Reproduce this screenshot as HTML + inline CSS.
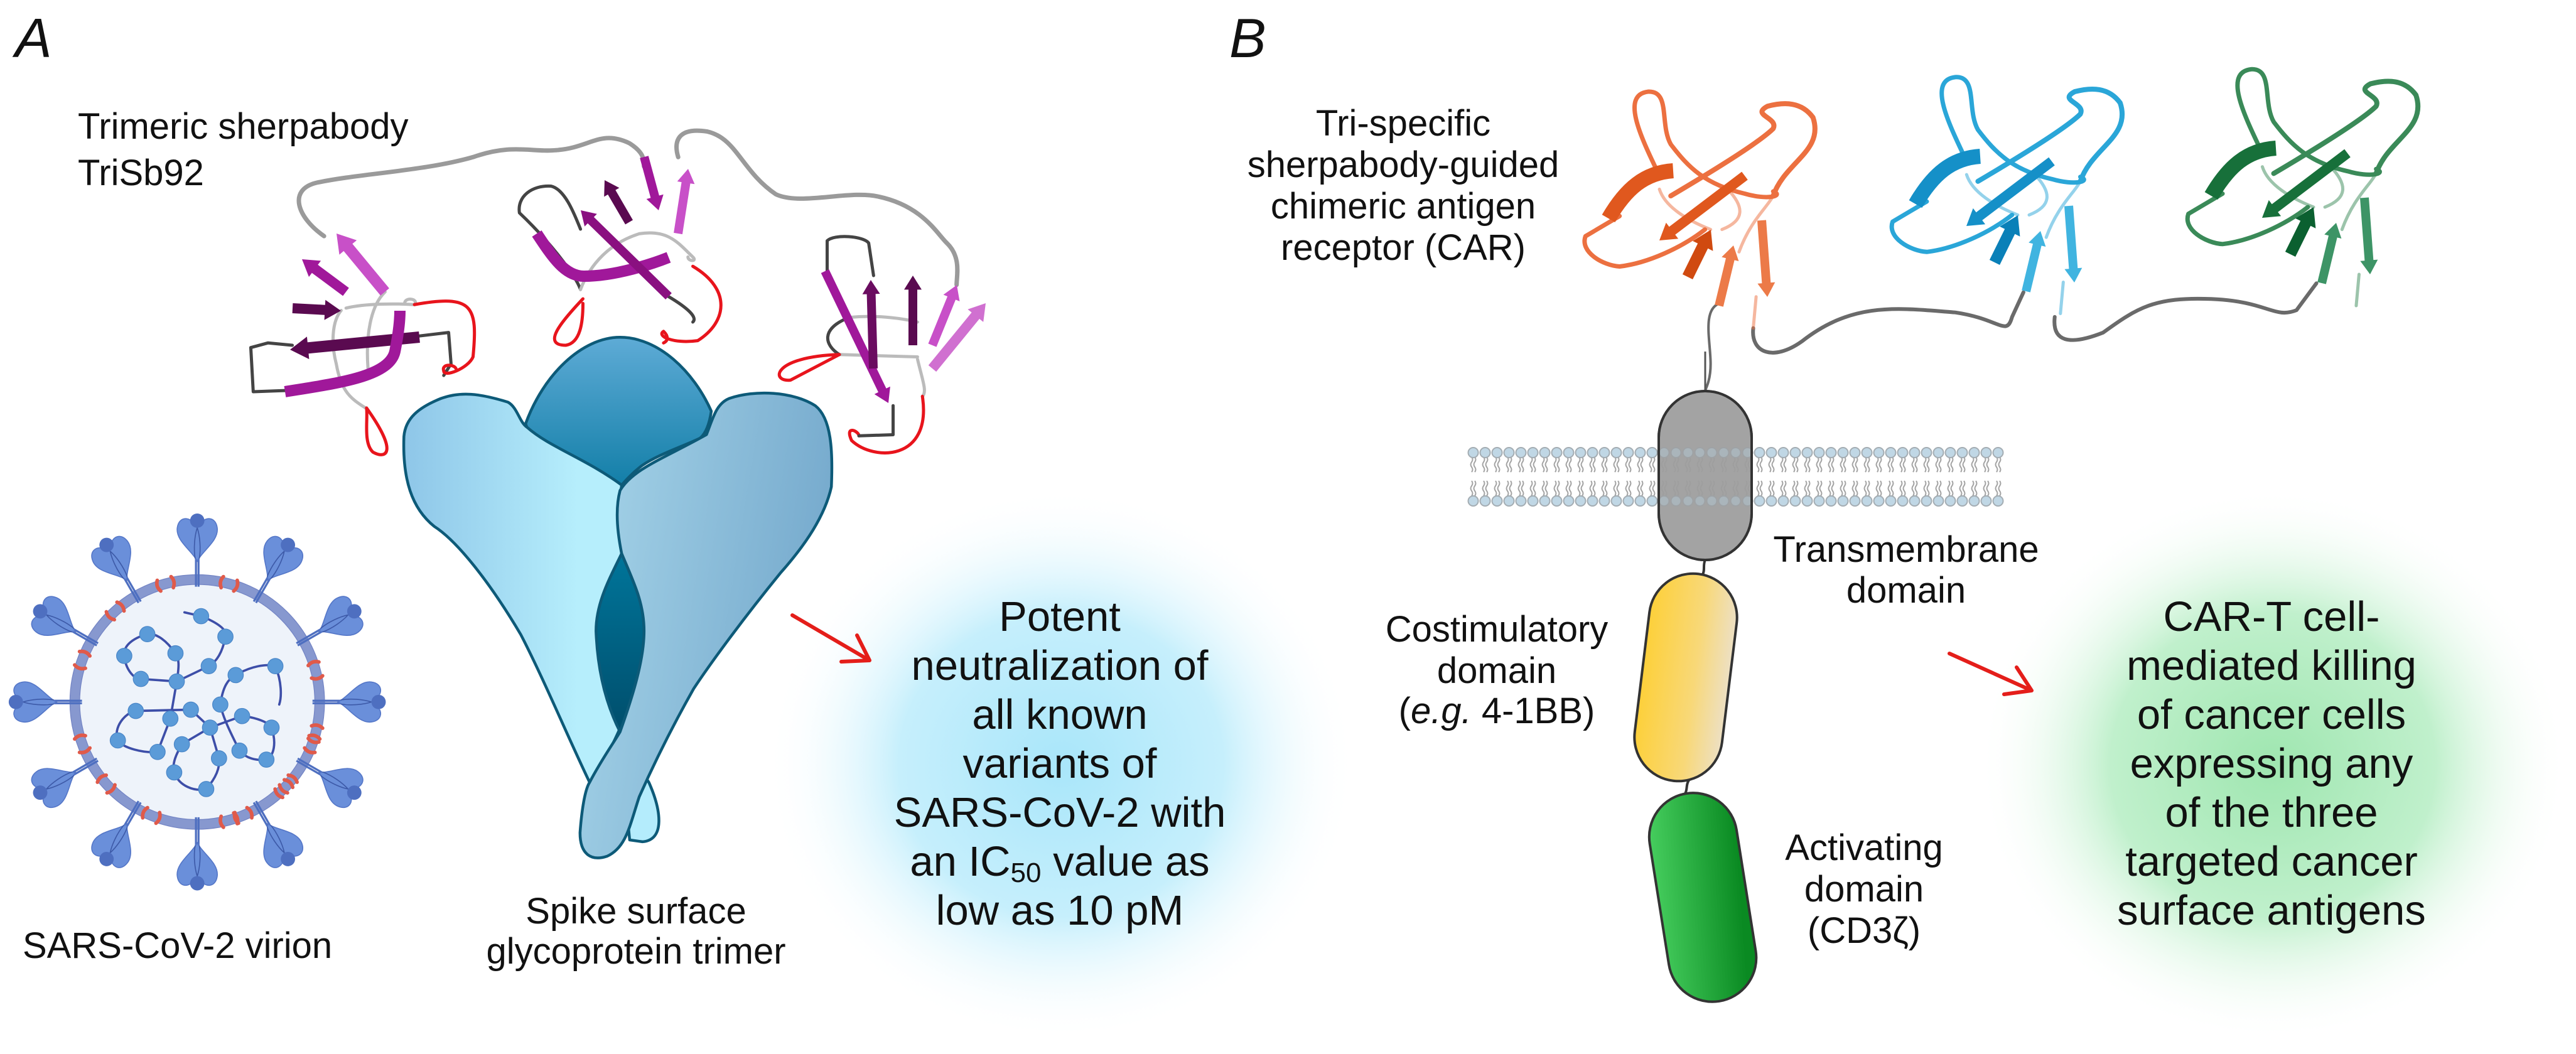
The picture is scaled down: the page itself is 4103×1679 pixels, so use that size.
<!DOCTYPE html>
<html><head><meta charset="utf-8">
<style>
html,body{margin:0;padding:0;background:#fff;}
body{width:4103px;height:1674px;overflow:hidden;}
svg text{font-family:"Liberation Sans",sans-serif;fill:#111;}
</style></head>
<body>
<svg id="s" width="4103" height="1674" viewBox="0 0 4103 1674" xmlns="http://www.w3.org/2000/svg">
<defs>
  <radialGradient id="gBlue" cx="0.5" cy="0.5" r="0.5">
    <stop offset="0" stop-color="#a9e6fa"/><stop offset="0.55" stop-color="#c6effc"/><stop offset="1" stop-color="#ffffff" stop-opacity="0"/>
  </radialGradient>
  <radialGradient id="gGreen" cx="0.5" cy="0.5" r="0.5">
    <stop offset="0" stop-color="#9fe6b0"/><stop offset="0.55" stop-color="#c0f0cc"/><stop offset="1" stop-color="#ffffff" stop-opacity="0"/>
  </radialGradient>
  <linearGradient id="gLeft" x1="0" y1="0" x2="1" y2="0"><stop offset="0" stop-color="#8ec6e8"/><stop offset="0.8" stop-color="#b6eefc"/></linearGradient>
  <linearGradient id="gDome" x1="0" y1="0" x2="0" y2="1"><stop offset="0" stop-color="#5eabd6"/><stop offset="1" stop-color="#137fa8"/></linearGradient>
  <linearGradient id="gRight" x1="0" y1="0" x2="1" y2="0.3"><stop offset="0" stop-color="#a8d6ea"/><stop offset="1" stop-color="#76aacd"/></linearGradient>
  <linearGradient id="gLens" x1="0" y1="0" x2="0" y2="1"><stop offset="0" stop-color="#00759a"/><stop offset="1" stop-color="#004e6c"/></linearGradient>
  <linearGradient id="gYel" x1="0" y1="0" x2="1" y2="0"><stop offset="0" stop-color="#fdd03a"/><stop offset="0.6" stop-color="#f8d878"/><stop offset="1" stop-color="#ede0c4"/></linearGradient>
  <linearGradient id="gGrn" x1="0" y1="0" x2="1" y2="0.2"><stop offset="0" stop-color="#48d060"/><stop offset="1" stop-color="#0a8a22"/></linearGradient>
  <pattern id="lip" x="2337" y="710" width="19" height="100" patternUnits="userSpaceOnUse">
    <path d="M7,18 q3,4 0,8 q-3,4 0,8 q3,4 0,8 M12,18 q3,4 0,8 q-3,4 0,8 q3,4 0,8 M7,56 q3,4 0,8 q-3,4 0,8 q3,4 0,8 M12,56 q3,4 0,8 q-3,4 0,8 q3,4 0,8" fill="none" stroke="#9a9a9a" stroke-width="2"/>
    <circle cx="9.5" cy="11" r="8" fill="#b9d2e2" stroke="#9aa4aa" stroke-width="2"/>
    <circle cx="9.5" cy="88" r="8" fill="#b9d2e2" stroke="#9aa4aa" stroke-width="2"/>
  </pattern>
  <g id="vspike">
    <path d="M-5,30 L-5,-95 M5,30 L5,-95" stroke="#4e6fc0" stroke-width="8"/>
    <path d="M0,-70 C-20,-110 -85,-150 -78,-200 C-72,-245 -30,-245 -12,-215 C-15,-255 15,-255 12,-215 C30,-245 72,-245 78,-200 C85,-150 20,-110 0,-70Z" fill="#6a8fda" stroke="#5577c8" stroke-width="4"/>
    <circle cx="0" cy="-228" r="28" fill="#4e6fc0"/>
    <path d="M-8,-80 C-15,-120 -10,-170 0,-200 M8,-80 C15,-120 10,-170 0,-200" stroke="#3d5aa8" stroke-width="4" fill="none"/>
  </g>
  <g id="oloops">
    <path vector-effect="non-scaling-stroke" stroke-width="7" d="M110,740 L50,830 C40,900 80,960 110,965 C160,950 220,880 260,800"/>
    <path vector-effect="non-scaling-stroke" stroke-width="7" d="M180,560 C150,400 110,200 160,185 C200,180 180,330 200,420 C230,520 260,600 330,640 C370,670 400,650 380,630"/>
    <path vector-effect="non-scaling-stroke" stroke-width="8" d="M380,650 C400,500 470,450 450,300 C430,230 400,230 370,250 C340,290 390,300 380,350 C360,400 300,500 200,650"/>
    <path vector-effect="non-scaling-stroke" stroke-width="5" stroke-opacity="0.5" d="M180,620 C190,700 230,760 270,800 M300,620 C330,700 330,760 290,800 M345,1240 L350,1100 M380,650 C370,700 340,760 320,900"/>
  </g>
</defs>

<ellipse cx="1690" cy="1218" rx="470" ry="440" fill="url(#gBlue)"/>
<ellipse cx="3620" cy="1218" rx="470" ry="440" fill="url(#gGreen)"/>

<text x="24" y="91" font-size="88" font-style="italic">A</text>
<text x="1958" y="91" font-size="88" font-style="italic">B</text>

<g transform="translate(380,180) scale(0.778,0.37)" fill="none" stroke-linecap="round" stroke-linejoin="round">
  <path vector-effect="non-scaling-stroke" stroke="#9a9a9a" stroke-width="7" d="M175,530 C120,450 100,330 160,300 C250,260 380,250 480,190 C560,130 600,170 650,160 C720,150 740,70 800,130 C830,170 830,200 830,230"/>
  <path vector-effect="non-scaling-stroke" stroke="#9a9a9a" stroke-width="7" d="M900,190 C890,120 900,60 960,80 C1020,110 1030,250 1100,350 C1150,400 1250,330 1310,360 C1400,400 1430,520 1450,560 C1480,620 1470,700 1470,740"/>
  <path vector-effect="non-scaling-stroke" stroke="#444" stroke-width="5" d="M95,1195 L30,1200 L25,1010 L60,990 L110,1000"/>
  <path vector-effect="non-scaling-stroke" stroke="#444" stroke-width="5" d="M370,960 L430,945 L435,1080 L420,1130"/>
  <path vector-effect="non-scaling-stroke" stroke="#bbb" stroke-width="5" d="M210,850 C190,900 190,1000 200,1080 C210,1200 230,1230 260,1270 M300,770 C270,830 260,960 265,1100 M220,840 C260,820 320,820 360,825 C370,800 340,790 340,820"/>
  <path vector-effect="non-scaling-stroke" stroke="#e8141c" stroke-width="5" d="M360,825 C480,780 490,830 480,1050 C470,1100 420,1140 420,1110 C415,1080 440,1080 445,1100"/>
  <path vector-effect="non-scaling-stroke" stroke="#e8141c" stroke-width="5" d="M262,1270 C330,1470 300,1490 275,1460 C255,1420 265,1320 262,1270"/>
  <path vector-effect="non-scaling-stroke" stroke="#444" stroke-width="5" d="M700,760 C690,700 640,560 575,430 C570,360 600,310 640,315 C670,330 690,450 700,500"/>
  <path vector-effect="non-scaling-stroke" stroke="#bbb" stroke-width="5" d="M700,760 C720,650 760,560 820,520 C880,500 900,560 930,620 C940,640 920,640 920,620"/>
  <path vector-effect="non-scaling-stroke" stroke="#e8141c" stroke-width="5" d="M705,800 C660,900 620,1000 670,1000 C700,990 705,900 705,820"/>
  <path vector-effect="non-scaling-stroke" stroke="#444" stroke-width="5" d="M880,790 C920,840 940,880 930,900"/>
  <path vector-effect="non-scaling-stroke" stroke="#e8141c" stroke-width="5" d="M930,660 C1010,760 1000,900 940,980 C890,995 855,960 870,940 C880,960 880,980 870,990"/>
  <path vector-effect="non-scaling-stroke" stroke="#444" stroke-width="5" d="M1205,690 L1205,550 C1220,520 1280,530 1290,560 L1300,700"/>
  <path vector-effect="non-scaling-stroke" stroke="#bbb" stroke-width="5" d="M1230,1040 L1390,1050 M1250,880 C1300,870 1350,880 1390,900 M1390,1060 C1400,1150 1410,1200 1400,1220"/>
  <path vector-effect="non-scaling-stroke" stroke="#444" stroke-width="5" d="M1230,1040 C1200,1000 1190,930 1250,880"/>
  <path vector-effect="non-scaling-stroke" stroke="#e8141c" stroke-width="5" d="M1230,1040 C1090,1050 1090,1160 1130,1150 L1230,1040"/>
  <path vector-effect="non-scaling-stroke" stroke="#e8141c" stroke-width="5" d="M1400,1220 C1420,1500 1300,1500 1255,1410 C1240,1340 1270,1370 1270,1390"/>
  <path vector-effect="non-scaling-stroke" stroke="#444" stroke-width="5" d="M1270,1390 L1340,1385 L1340,1260"/>
</g>

<g transform="translate(2480,80) scale(0.906,0.357)" fill="none" stroke-linecap="round" stroke-linejoin="round">
  <path vector-effect="non-scaling-stroke" stroke="#6a6a6a" stroke-width="6" d="M345,1240 C340,1350 380,1390 430,1300 C520,1120 600,1150 700,1170 C780,1200 790,1280 800,1190 L820,1080"/>
  <path vector-effect="non-scaling-stroke" stroke="#6a6a6a" stroke-width="6" d="M875,1190 C870,1300 900,1320 960,1260 C1020,1150 1050,1100 1150,1110 C1250,1120 1260,1200 1300,1160 L1335,1040"/>
  <path vector-effect="non-scaling-stroke" stroke="#6a6a6a" stroke-width="4" d="M285,1130 C255,1160 270,1300 270,1400 C270,1500 255,1530 255,1560"/>
  <use href="#oloops" stroke="#ec7040"/>
  <use href="#oloops" transform="translate(540,-65)" stroke="#2aa6d8"/>
  <use href="#oloops" transform="translate(1060,-100)" stroke="#3a8a58"/>
</g>

<g transform="translate(600,500) scale(0.51,0.574)" stroke="#0d5a78" stroke-linejoin="round">
  <path vector-effect="non-scaling-stroke" stroke-width="4.5" fill="url(#gDome)" d="M465,305 C520,170 640,65 760,65 C880,65 990,160 1045,270 C1040,300 1030,330 1010,345 C950,370 880,390 830,420 C800,440 780,460 765,475 C700,440 620,400 540,375 C500,360 475,335 465,305 Z"/>
  <path vector-effect="non-scaling-stroke" stroke-width="4.5" fill="#b4ecfc" d="M760,1180 L850,1300 C890,1380 900,1460 830,1465 L790,1460 Z"/>
  <path vector-effect="non-scaling-stroke" stroke-width="4.5" fill="url(#gLeft)" d="M85,340 C90,290 130,260 200,235 C260,215 320,220 410,245 C440,260 445,300 470,315 C540,370 650,400 765,475 C755,540 750,600 765,665 L760,1150 C720,1230 690,1270 665,1300 C600,1180 520,1010 450,890 C350,740 250,630 180,590 C110,540 80,460 85,340 Z"/>
  <path vector-effect="non-scaling-stroke" stroke-width="4.5" fill="url(#gLens)" d="M765,665 C800,740 835,800 835,880 C835,960 800,1060 760,1160 C720,1090 690,1000 685,880 C685,800 730,730 765,665 Z"/>
  <path vector-effect="non-scaling-stroke" stroke-width="4.5" fill="url(#gRight)" d="M760,490 C800,430 900,400 1030,335 C1050,290 1060,250 1100,235 C1180,210 1300,215 1370,255 C1420,290 1425,380 1420,480 C1400,560 1340,640 1260,720 C1150,840 1050,960 990,1040 C920,1150 860,1260 820,1340 C790,1420 780,1480 720,1505 C670,1520 635,1500 635,1440 C640,1380 650,1320 665,1300 C700,1240 740,1190 760,1160 C800,1060 835,960 835,880 C835,800 800,740 765,665 C750,600 745,540 760,490 Z"/>
</g>

<g transform="translate(0,800) scale(0.408)">
  <circle cx="770" cy="780" r="478" fill="#eef3fa" stroke="#8798cf" stroke-width="38"/>
  <circle cx="770" cy="780" r="497" fill="none" stroke="#7384c4" stroke-width="3"/>
  <circle cx="770" cy="780" r="459" fill="none" stroke="#7384c4" stroke-width="3"/>
  <g id="reds" fill="none" stroke="#e05a4a" stroke-width="14" stroke-linecap="round"></g>
  <g id="spk"></g>
  <g fill="none" stroke="#3d4ea8" stroke-width="9" stroke-linejoin="round" stroke-linecap="round">
    <path d="M720,430 L785,445 C850,470 890,500 880,525 C870,580 850,620 815,640 L690,700"/>
    <path d="M690,700 C700,640 700,610 685,590 C650,540 610,510 575,515 C520,530 480,560 485,600 C490,650 520,690 550,690 L690,700"/>
    <path d="M690,700 L665,845 L615,975 C560,980 480,960 460,930 C440,880 490,820 530,815 L745,810 L820,880"/>
    <path d="M820,880 L710,945 C690,980 670,1020 680,1055 C700,1110 760,1130 805,1120 C840,1080 860,1040 855,1000 L820,880"/>
    <path d="M820,880 L945,835 C1000,840 1050,860 1060,880 C1080,940 1070,990 1040,1005 C1000,1010 960,1000 935,970 C900,900 870,840 860,790 C870,720 890,690 920,675 C980,640 1040,630 1075,640 C1100,700 1100,760 1090,790"/>
  </g>
  <g fill="#5b9bd8" stroke="#4a86c8" stroke-width="3">
    <circle cx="785" cy="445" r="30"/><circle cx="880" cy="525" r="30"/><circle cx="815" cy="640" r="30"/><circle cx="575" cy="515" r="30"/><circle cx="485" cy="600" r="30"/><circle cx="685" cy="590" r="30"/><circle cx="550" cy="690" r="30"/><circle cx="690" cy="700" r="30"/><circle cx="530" cy="815" r="30"/><circle cx="665" cy="845" r="30"/><circle cx="745" cy="810" r="30"/><circle cx="460" cy="930" r="30"/><circle cx="615" cy="975" r="30"/><circle cx="1075" cy="640" r="30"/><circle cx="920" cy="675" r="30"/><circle cx="860" cy="790" r="30"/><circle cx="945" cy="835" r="30"/><circle cx="1060" cy="880" r="30"/><circle cx="820" cy="880" r="30"/><circle cx="710" cy="945" r="30"/><circle cx="855" cy="1000" r="30"/><circle cx="935" cy="970" r="30"/><circle cx="1040" cy="1005" r="30"/><circle cx="680" cy="1055" r="30"/><circle cx="805" cy="1120" r="30"/>
  </g>
</g>

<g id="arrows"></g>

<path d="M2716,560 L2716,625" stroke="#555" stroke-width="3"/>
<path d="M2716,892 C2712,900 2716,908 2712,915 M2690,1243 C2685,1250 2688,1258 2684,1264" stroke="#333" stroke-width="4" fill="none"/>
<rect x="2642" y="623" width="148" height="269" rx="74" fill="#a6a6a6" stroke="#333" stroke-width="4"/>
<rect x="2337" y="710" width="855" height="100" fill="url(#lip)" opacity="0.9"/>
<rect x="2642" y="623" width="148" height="269" rx="74" fill="#a0a0a0" fill-opacity="0.55" stroke="#333" stroke-width="4"/>
<rect x="2615" y="913" width="140" height="332" rx="70" fill="url(#gYel)" stroke="#333" stroke-width="4" transform="rotate(7 2685 1079)"/>
<rect x="2642" y="1262" width="140" height="335" rx="70" fill="url(#gGrn)" stroke="#333" stroke-width="4" transform="rotate(-9 2712 1429)"/>

<g stroke="#e41e1a" stroke-width="6" fill="none" stroke-linecap="round" stroke-linejoin="round">
  <path d="M1262,980 L1385,1052 M1340,1054 L1385,1052 L1365,1012"/>
  <path d="M3105,1041 L3236,1100 M3192,1106 L3236,1100 L3212,1063"/>
</g>

<g font-size="58">
  <text x="124" y="221">Trimeric sherpabody</text>
  <text x="124" y="295">TriSb92</text>
  <text x="36" y="1526">SARS-CoV-2 virion</text>
  <text x="1013" y="1471" text-anchor="middle">Spike surface</text>
  <text x="1013" y="1535" text-anchor="middle">glycoprotein trimer</text>
  <g text-anchor="middle">
    <text x="2235" y="216">Tri-specific</text>
    <text x="2235" y="282">sherpabody-guided</text>
    <text x="2235" y="348">chimeric antigen</text>
    <text x="2235" y="414">receptor (CAR)</text>
    <text x="3036" y="895">Transmembrane</text>
    <text x="3036" y="960">domain</text>
    <text x="2384" y="1022">Costimulatory</text>
    <text x="2384" y="1088">domain</text>
    <text x="2384" y="1152">(<tspan font-style="italic">e.g.</tspan> 4-1BB)</text>
    <text x="2969" y="1370">Activating</text>
    <text x="2969" y="1436">domain</text>
    <text x="2969" y="1502">(CD3ζ)</text>
  </g>
</g>
<g font-size="67" text-anchor="middle">
  <text x="1688" y="1005">Potent</text>
  <text x="1688" y="1083">neutralization of</text>
  <text x="1688" y="1161">all known</text>
  <text x="1688" y="1239">variants of</text>
  <text x="1688" y="1317">SARS-CoV-2 with</text>
  <text x="1688" y="1395">an IC<tspan font-size="44" dy="10">50</tspan><tspan dy="-10"> value as</tspan></text>
  <text x="1688" y="1473">low as 10 pM</text>
  <text x="3618" y="1005">CAR-T cell-</text>
  <text x="3618" y="1083">mediated killing</text>
  <text x="3618" y="1161">of cancer cells</text>
  <text x="3618" y="1239">expressing any</text>
  <text x="3618" y="1317">of the three</text>
  <text x="3618" y="1395">targeted cancer</text>
  <text x="3618" y="1473">surface antigens</text>
</g>

<script>
(function(){
var NS="http://www.w3.org/2000/svg";
var spk=document.getElementById("spk");
for(var i=0;i<12;i++){var a=-90+30*i;var r=480;var rad=a*Math.PI/180;
 var x=770+r*Math.cos(rad),y=780+r*Math.sin(rad);
 var u=document.createElementNS(NS,"use");u.setAttribute("href","#vspike");
 u.setAttribute("transform","translate("+x+","+y+") rotate("+(a+90)+")");spk.appendChild(u);}
var reds=document.getElementById("reds");
[-75,-105,-132,-160,-200,-222,-248,-285,-315,-340,-15,15,42,68].forEach(function(a){
 for(var k=-1;k<=1;k+=2){var b=(a+k*3.2)*Math.PI/180;var rr=478;
  var x=770+rr*Math.cos(b),y=780+rr*Math.sin(b);
  var p=document.createElementNS(NS,"path");
  var t=b+Math.PI/2;var dx=Math.cos(t)*14,dy=Math.sin(t)*14;var nx=Math.cos(b)*22,ny=Math.sin(b)*22;
  p.setAttribute("d","M"+(x-nx)+","+(y-ny)+" Q"+(x+dx*k)+","+(y+dy*k)+" "+(x+nx)+","+(y+ny));
  reds.appendChild(p);}
});
var g=document.getElementById("arrows");
function arrow(x1,y1,x2,y2,w,c,head){
 var dx=x2-x1,dy=y2-y1,L=Math.sqrt(dx*dx+dy*dy),ux=dx/L,uy=dy/L,px=-uy,py=ux;
 var hl=head?Math.min(w*1.6,L*0.45):0;var bx=x2-ux*hl,by=y2-uy*hl;var h=w/2;
 var pts=[[x1+px*h,y1+py*h],[bx+px*h,by+py*h]];
 if(head){pts.push([bx+px*w,by+py*w]);pts.push([x2,y2]);pts.push([bx-px*w,by-py*w]);}
 pts.push([bx-px*h,by-py*h]);pts.push([x1-px*h,y1-py*h]);
 var p=document.createElementNS(NS,"polygon");
 p.setAttribute("points",pts.map(function(q){return q[0].toFixed(1)+","+q[1].toFixed(1)}).join(" "));
 p.setAttribute("fill",c);g.appendChild(p);}
function band(d,w,c){var p=document.createElementNS(NS,"path");p.setAttribute("d",d);p.setAttribute("fill","none");
 p.setAttribute("stroke",c);p.setAttribute("stroke-width",w);p.setAttribute("stroke-linecap","butt");g.appendChild(p);}
var M="#a0189a",D="#5a0a50",L="#c850c8",P="#d070d0";
arrow(613,465,536,372,18,L,1);
arrow(551,465,481,413,16,M,1);
arrow(466,491,543,495,16,D,1);
arrow(668,537,462,557,18,D,1);
band("M454,624 C540,610 620,600 629,560 C635,530 637,510 637,495",18,M);
band("M855,372 C880,410 900,440 930,440 C980,440 1040,420 1065,410",18,M);
arrow(1065,472,925,335,14,"#8a1080",1);
arrow(1002,354,963,287,14,D,1);
arrow(1026,250,1049,335,14,M,1);
arrow(1080,372,1096,269,14,L,1);
arrow(1314,432,1415,642,14,M,1);
arrow(1391,587,1387,446,14,"#6a0c60",1);
arrow(1454,550,1454,439,14,D,1);
arrow(1485,550,1524,454,14,L,1);
arrow(1485,587,1570,483,16,P,1);
function car(dx,dy,c1,c2,c3){
 band("M"+(2562+dx)+","+(348+dy)+" C"+(2590+dx)+","+(300+dy)+" "+(2620+dx)+","+(275+dy)+" "+(2665+dx)+","+(272+dy),24,c1);
 arrow(2779+dx,280+dy,2643+dx,383+dy,16,c1,1);
 arrow(2688+dx,441+dy,2725+dx,366+dy,18,c2,1);
 arrow(2738+dx,487+dy,2761+dx,391+dy,14,c3,1);
 arrow(2806+dx,351+dy,2815+dx,473+dy,14,c3,1);
}
car(0,0,"#e0581e","#d04a10","#ec7a48");
car(489,-23,"#1590c8","#0a80b8","#40b4e0");
car(960,-36,"#17703a","#0b6030","#3d9466");
})();
</script>
</svg>
</body></html>
